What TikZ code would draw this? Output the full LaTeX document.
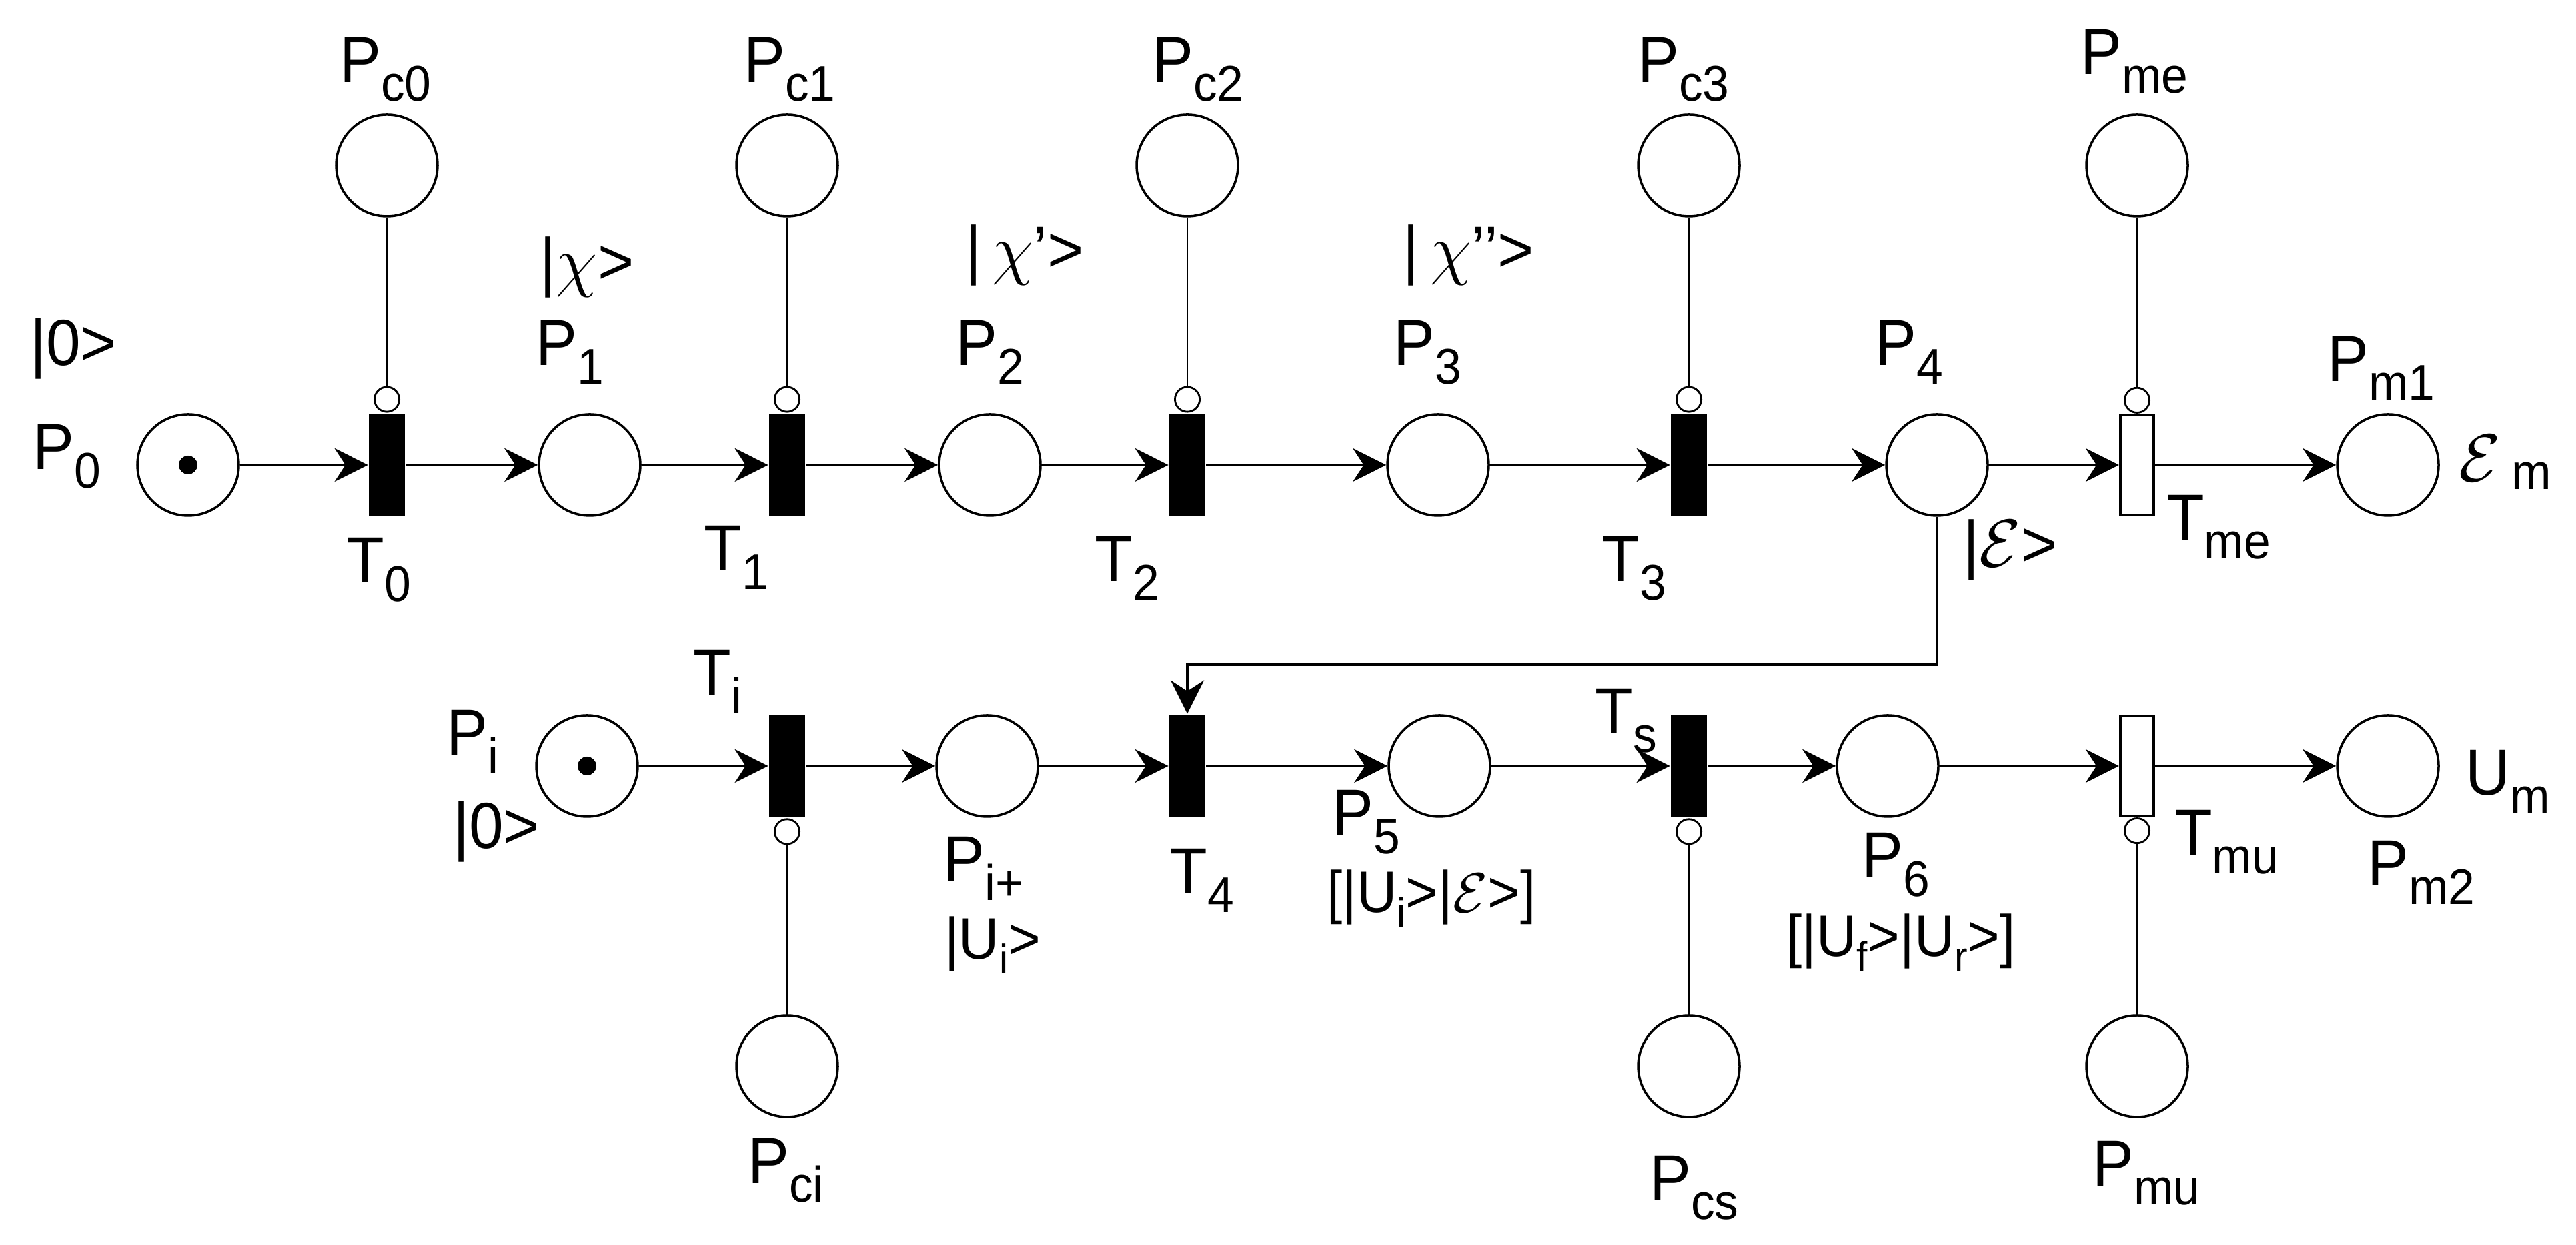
\documentclass[tikz,border=0pt]{standalone}
\usepackage{fontspec}
\setmainfont[FakeStretch=0.95]{Liberation Sans}
\usetikzlibrary{positioning}
\usetikzlibrary{arrows.meta}

% subscripts for the big and the small labels
\newcommand{\sbs}[1]{\raisebox{-3.9pt}{\fontsize{10.7}{12}\selectfont #1}}
\newcommand{\ssbs}[1]{\raisebox{-3pt}{\fontsize{8.8}{10}\selectfont #1}}

\tikzset{
  place/.style={circle, draw, line width=0.5pt, minimum size=0.76cm, inner sep=0pt},
  trans/.style={rectangle, fill=black, minimum width=0.27cm, minimum height=0.77cm, inner sep=0pt},
  opentrans/.style={rectangle, draw, fill=white, line width=0.6pt, minimum width=0.25cm, minimum height=0.75cm, inner sep=0pt},
  arc/.style={line width=0.6pt, -{Stealth[length=0.25cm, width=0.25cm]}},
  inh/.style={line width=0.4pt, -{Circle[open, length=0.2cm, width=0.2cm]}},
  lbl/.style={font=\fontsize{13.9}{16}\selectfont, inner sep=0pt, anchor=base},
  smalllbl/.style={font=\fontsize{12.5}{15}\selectfont, inner sep=0pt, anchor=base},
}

\begin{document}
\begin{tikzpicture}
  \useasboundingbox (0,0) rectangle (19.31,9.33);

  % upper line
  \foreach \i/\x in {0/1.41,1/4.42,2/7.42,3/10.78,4/14.52}
    {\node[place] (P\i) at (\x,5.845) {};}
  \foreach \i/\x in {0/2.90,1/5.90,2/8.90,3/12.66}
    {\node[trans] (T\i) at (\x,5.845) {};
     \node[place] (Pc\i) at (\x,8.09) {};
     \draw[inh] (Pc\i) -- (T\i);}
  \node[opentrans] (Tme) at (16.02,5.845) {};
  \node[place] (Pme) at (16.02,8.09) {};
  \node[place] (Pm1) at (17.90,5.845) {};
  \draw[inh] (Pme) -- (Tme);
  \fill (P0) circle (0.07cm);

  \foreach \a/\b in {P0/T0,T0/P1,P1/T1,T1/P2,P2/T2,T2/P3,P3/T3,T3/P4,P4/Tme,Tme/Pm1}
    {\draw[arc] (\a) -- (\b);}

  % lower line
  \node[place] (Pi) at (4.40,3.59) {};
  \node[trans] (Ti) at (5.90,3.59) {};
  \node[place] (Pip) at (7.40,3.59) {};
  \node[trans] (T4) at (8.90,3.59) {};
  \node[place] (P5) at (10.79,3.59) {};
  \node[trans] (Ts) at (12.66,3.59) {};
  \node[place] (P6) at (14.15,3.59) {};
  \node[opentrans] (Tmu) at (16.02,3.59) {};
  \node[place] (Pm2) at (17.90,3.59) {};
  \node[place] (Pci) at (5.90,1.34) {};
  \node[place] (Pcs) at (12.66,1.34) {};
  \node[place] (Pmu) at (16.02,1.34) {};
  \fill (Pi) circle (0.07cm);

  \foreach \a/\b in {Pi/Ti,Ti/Pip,Pip/T4,T4/P5,P5/Ts,Ts/P6,P6/Tmu,Tmu/Pm2}
    {\draw[arc] (\a) -- (\b);}
  \foreach \c/\t in {Pci/Ti,Pcs/Ts,Pmu/Tmu}
    {\draw[inh] (\c) -- (\t);}

  % from P4 down to T4
  \coordinate (jn) at (8.90,4.35);
  \draw[arc] (P4) |- (jn) -- (T4);

  % labels, upper part
  \node[lbl] (lPc0) at (2.89,8.71) {P\sbs{c0}};
  \node[lbl] (lPc1) at (5.92,8.71) {P\sbs{c1}};
  \node[lbl] (lPc2) at (8.98,8.71) {P\sbs{c2}};
  \node[lbl] (lPc3) at (12.62,8.71) {P\sbs{c3}};
  \node[lbl] (lPme) at (16.00,8.77) {P\sbs{me}};
  \node[lbl] (lk0) at (0.55,6.59) {|0>};
  \node[lbl] (lP0) at (0.50,5.81) {P\sbs{0}};
  \node[lbl] (lk1) at (4.40,7.20) {|$\chi$>};
  \node[lbl] (lP1) at (4.27,6.59) {P\sbs{1}};
  \node[lbl] (lk2) at (7.68,7.29) {|\,$\chi$’>};
  \node[lbl] (lP2) at (7.42,6.59) {P\sbs{2}};
  \node[lbl] (lk3) at (11.01,7.29) {|\,$\chi$’’>};
  \node[lbl] (lP3) at (10.70,6.59) {P\sbs{3}};
  \node[lbl] (lP4) at (14.31,6.59) {P\sbs{4}};
  \node[lbl] (lPm1) at (17.85,6.47) {P\sbs{m1}};
  \node[lbl] (lT0) at (2.84,4.96) {T\sbs{0}};
  \node[lbl] (lT1) at (5.52,5.05) {T\sbs{1}};
  \node[lbl] (lT2) at (8.45,4.97) {T\sbs{2}};
  \node[lbl] (lT3) at (12.25,4.97) {T\sbs{3}};
  \node[lbl] (lk4) at (15.07,5.08) {|$\mathcal{E}$>};
  \node[lbl] (lTme) at (16.63,5.28) {T\sbs{me}};
  \node[lbl] (lEm) at (18.78,5.72) {$\mathcal{E}$\,\raisebox{-1.7pt}{\fontsize{10.7}{12}\selectfont m}};

  % labels, lower part
  \node[lbl] (lTi) at (5.38,4.12) {T\sbs{i}};
  \node[lbl] (lPi) at (3.54,3.67) {P\sbs{i}};
  \node[lbl] (lki) at (3.72,2.97) {|0>};
  \node[lbl] (lPip) at (7.37,2.72) {P\sbs{i+}};
  \node[smalllbl] (lkip) at (7.44,2.14) {|U\ssbs{i}>};
  \node[lbl] (lT4) at (9.01,2.63) {T\sbs{4}};
  \node[lbl] (lP5) at (10.24,3.07) {P\sbs{5}};
  \node[smalllbl] (lk5) at (10.73,2.49) {[|U\ssbs{i}>|$\mathcal{E}$>]};
  \node[lbl] (lTs) at (12.19,3.83) {T\sbs{s}};
  \node[lbl] (lP6) at (14.21,2.75) {P\sbs{6}};
  \node[smalllbl] (lk6) at (14.25,2.16) {[|U\ssbs{f}>|U\ssbs{r}>]};
  \node[lbl] (lTmu) at (16.69,2.92) {T\sbs{mu}};
  \node[lbl] (lPm2) at (18.15,2.69) {P\sbs{m2}};
  \node[lbl] (lUm) at (18.80,3.37) {U\sbs{m}};
  \node[lbl] (lPci) at (5.89,0.46) {P\sbs{ci}};
  \node[lbl] (lPcs) at (12.70,0.33) {P\sbs{cs}};
  \node[lbl] (lPmu) at (16.09,0.44) {P\sbs{mu}};
\end{tikzpicture}
\end{document}
